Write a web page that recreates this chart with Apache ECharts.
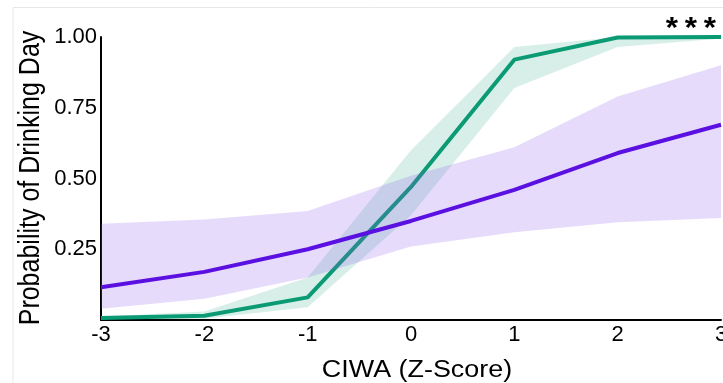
<!DOCTYPE html>
<html>
<head>
<meta charset="utf-8">
<script src="https://cdn.jsdelivr.net/npm/echarts@6/dist/echarts.min.js"></script>
<style>
  html, body { margin: 0; padding: 0; background: #ffffff; }
  #chart { width: 723px; height: 383px; }
</style>
</head>
<body>
<div id="chart"></div>
<script>
// CIWA z-score points at which the model was evaluated
const ciwa = [-3, -2, -1, 0, 1, 2, 3];

// Group A (green): predicted probability and 95% band
const greenFit   = [0.007, 0.015, 0.08, 0.47, 0.92, 0.998, 1.0];
const greenLower = [0.000, 0.004, 0.045, 0.37, 0.82, 0.965, 0.995];
const greenUpper = [0.012, 0.03, 0.15, 0.60, 0.965, 1.0, 1.0];

// Group B (purple): predicted probability and 95% band
const purpleFit   = [0.116, 0.17, 0.25, 0.35, 0.46, 0.59, 0.69];
const purpleLower = [0.04, 0.075, 0.15, 0.26, 0.31, 0.345, 0.36];
const purpleUpper = [0.34, 0.355, 0.385, 0.51, 0.61, 0.79, 0.90];

// y-axis tick values that carry labels
const yTicks = [0.25, 0.5, 0.75, 1.0];

// Axis titles and significance marker
const xTitle = 'CIWA (Z-Score)';
const yTitle = 'Probability of Drinking Day';
const sigMark = ['*', '*', '*'];

const pairs = (xs, ys) => xs.map((x, i) => [x, ys[i]]);

// Filled ribbon between lower and upper bounds, drawn as one polygon
function ribbon(lower, upper, color, z) {
  return {
    type: 'custom',
    z: z,
    silent: true,
    data: [0],
    renderItem: function (params, api) {
      const pts = [];
      for (let i = 0; i < ciwa.length; i++) pts.push(api.coord([ciwa[i], upper[i]]));
      for (let i = ciwa.length - 1; i >= 0; i--) pts.push(api.coord([ciwa[i], lower[i]]));
      return {
        type: 'polygon',
        shape: { points: pts },
        style: { fill: color, stroke: null }
      };
    }
  };
}

function fitLine(values, color, z) {
  return {
    type: 'line',
    z: z,
    data: pairs(ciwa, values),
    showSymbol: false,
    symbol: 'none',
    lineStyle: { color: color, width: 4 },
    silent: true
  };
}

const chart = echarts.init(document.getElementById('chart'), null, { renderer: 'canvas' });

const font = 'Liberation Sans, Arial, sans-serif';
const wide = 1.17; // horizontal widening of title glyphs

// Significance stars, evenly spaced above the top-right of the plot
const starGraphics = sigMark.map((s, i) => ({
  type: 'text',
  x: 672 + i * 19, y: 28.5,
  scaleX: 1.05,
  style: { text: s, x: 0, y: 0, align: 'center', verticalAlign: 'middle',
           fontSize: 30, fontWeight: 'bold', fontFamily: font, fill: '#000' },
  silent: true
}));

chart.setOption({
  backgroundColor: '#ffffff',
  animation: false,
  grid: { left: 101, right: 2, top: 37, bottom: 63, containLabel: false, outerBoundsMode: 'none' },
  xAxis: {
    type: 'value',
    min: -3, max: 3, interval: 1,
    axisLine: { show: true, onZero: false, lineStyle: { color: '#000', width: 2 } },
    axisTick: { show: false },
    splitLine: { show: false },
    axisLabel: { color: '#000', fontSize: 22, fontFamily: font, margin: 4, hideOverlap: false }
  },
  yAxis: {
    type: 'value',
    min: 0, max: 1, interval: 0.25,
    axisLine: { show: true, onZero: false, lineStyle: { color: '#000', width: 2 } },
    axisTick: { show: false },
    splitLine: { show: false },
    axisLabel: {
      color: '#000', fontSize: 22, fontFamily: font, margin: 4,
      formatter: function (v) {
        return yTicks.some(t => Math.abs(t - v) < 1e-9) ? v.toFixed(2) : '';
      }
    }
  },
  graphic: [
    {
      type: 'polyline',
      z: -10,
      shape: { points: [[13, 390], [13, 7.5], [730, 7.5]] },
      style: { stroke: '#e8e8e8', lineWidth: 1, fill: null },
      silent: true
    },
    {
      type: 'text',
      x: 417, y: 371,
      scaleX: wide,
      style: { text: xTitle, x: 0, y: 0, align: 'center', verticalAlign: 'middle',
               fontSize: 23, fontFamily: font, fill: '#000' },
      silent: true
    },
    {
      type: 'text',
      x: 31, y: 178,
      rotation: Math.PI / 2,
      scaleY: wide,
      style: { text: yTitle, x: 0, y: 0, align: 'center', verticalAlign: 'middle',
               fontSize: 25, fontFamily: font, fill: '#000' },
      silent: true
    }
  ].concat(starGraphics),
  series: [
    ribbon(greenLower, greenUpper, 'rgba(17,160,120,0.17)', 1),
    fitLine(greenFit, '#0a9a74', 2),
    ribbon(purpleLower, purpleUpper, 'rgba(140,90,235,0.22)', 3),
    fitLine(purpleFit, '#5a10e0', 4)
  ]
});
</script>
</body>
</html>
